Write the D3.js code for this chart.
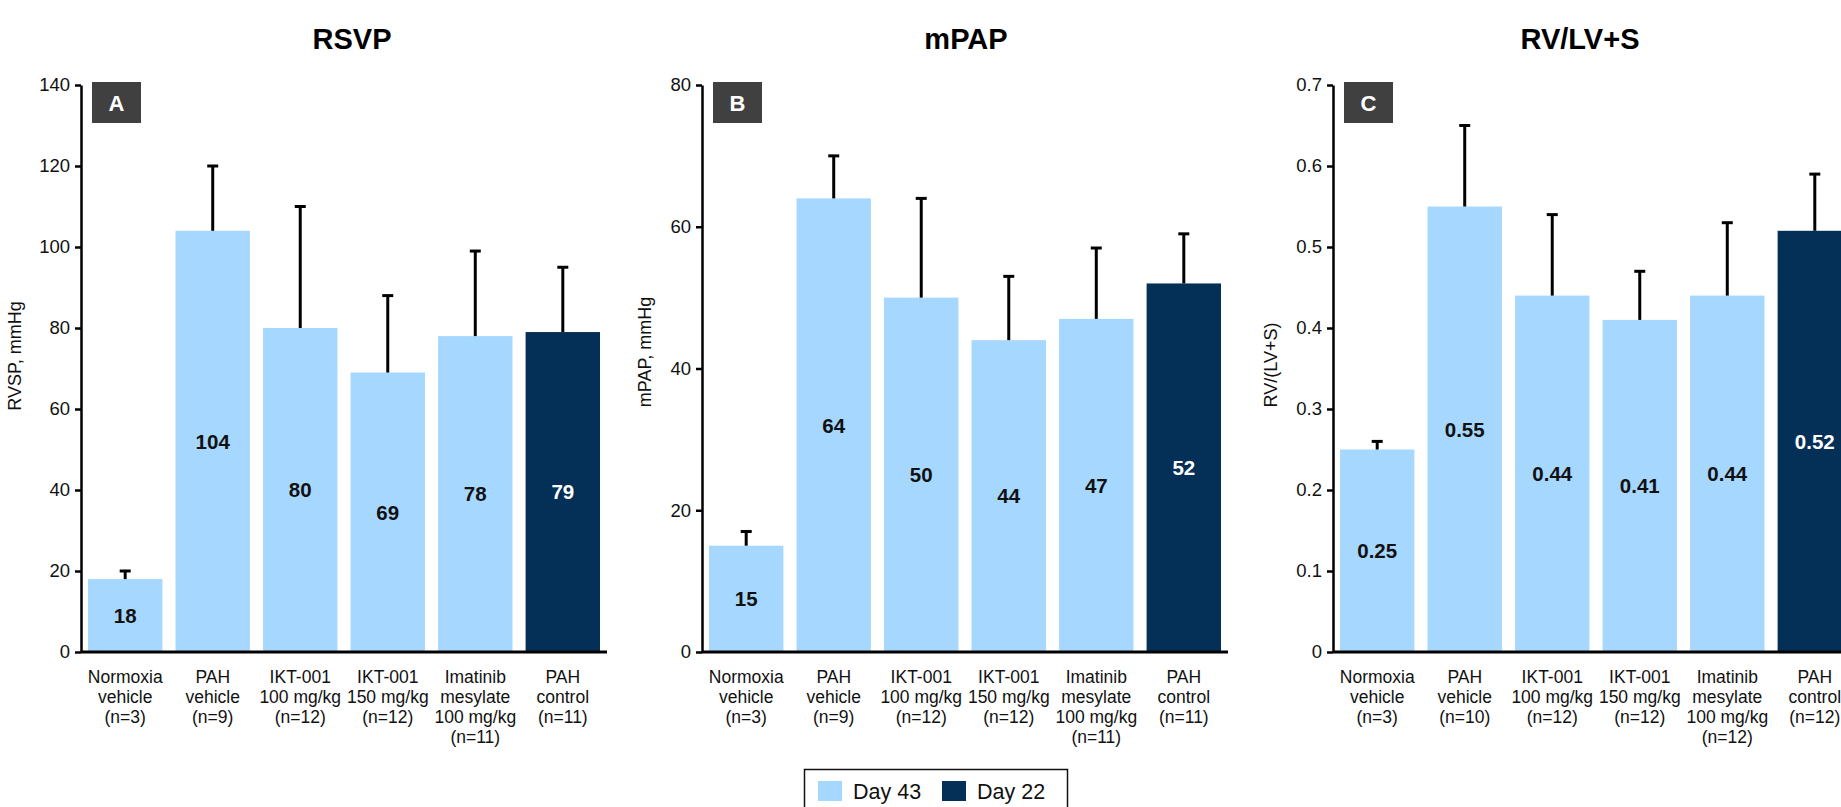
<!DOCTYPE html>
<html>
<head>
<meta charset="utf-8">
<script src="https://cdn.jsdelivr.net/npm/d3@7"></script>
<style>
  html, body { margin: 0; padding: 0; background: #fff; overflow: hidden; }
  svg { display: block; font-family: "Liberation Sans", Arial, sans-serif; }
</style>
</head>
<body>
<div id="chart"></div>
<script>
// categories (one line per array entry)
const catsAB = [
  ['Normoxia', 'vehicle', '(n=3)'],
  ['PAH', 'vehicle', '(n=9)'],
  ['IKT-001', '100 mg/kg', '(n=12)'],
  ['IKT-001', '150 mg/kg', '(n=12)'],
  ['Imatinib', 'mesylate', '100 mg/kg', '(n=11)'],
  ['PAH', 'control', '(n=11)']
];
const catsC = [
  ['Normoxia', 'vehicle', '(n=3)'],
  ['PAH', 'vehicle', '(n=10)'],
  ['IKT-001', '100 mg/kg', '(n=12)'],
  ['IKT-001', '150 mg/kg', '(n=12)'],
  ['Imatinib', 'mesylate', '100 mg/kg', '(n=12)'],
  ['PAH', 'control', '(n=12)']
];
const series = ['Day 43', 'Day 43', 'Day 43', 'Day 43', 'Day 43', 'Day 22'];

// values and top of the error bars
const rsvp = [18, 104, 80, 69, 78, 79];
const rsvpErr = [20, 120, 110, 88, 99, 95];
const mpap = [15, 64, 50, 44, 47, 52];
const mpapErr = [17, 70, 64, 53, 57, 59];
const rvlv = [0.25, 0.55, 0.44, 0.41, 0.44, 0.52];
const rvlvErr = [0.26, 0.65, 0.54, 0.47, 0.53, 0.59];

// tick labels
const ticksA = [0, 20, 40, 60, 80, 100, 120, 140];
const ticksB = [0, 20, 40, 60, 80];
const ticksC = [0, 0.1, 0.2, 0.3, 0.4, 0.5, 0.6, 0.7];

const legendItems = ['Day 43', 'Day 22'];
const colors = { 'Day 43': '#A6D7FE', 'Day 22': '#043057' };

const W = 1841, H = 807;
const plotTop = 85, plotBottom = 652, plotW = 526;

const svg = d3.select('#chart').append('svg')
  .attr('width', W).attr('height', H);

const panels = [
  { letter: 'A', title: 'RSVP', titleX: 352, yTitle: 'RVSP, mmHg', yTitleX: 21, yTitleY: 356,
    x0: 81, cats: catsAB, vals: rsvp, errs: rsvpErr, ticks: ticksA, fmt: d => d, lbl: d => d },
  { letter: 'B', title: 'mPAP', titleX: 966, yTitle: 'mPAP, mmHg', yTitleX: 651, yTitleY: 352,
    x0: 702, cats: catsAB, vals: mpap, errs: mpapErr, ticks: ticksB, fmt: d => d, lbl: d => d },
  { letter: 'C', title: 'RV/LV+S', titleX: 1580, yTitle: 'RV/(LV+S)', yTitleX: 1277, yTitleY: 365,
    x0: 1333, cats: catsC, vals: rvlv, errs: rvlvErr, ticks: ticksC,
    fmt: d => d === 0 ? '0' : d3.format('.1f')(d), lbl: d => d3.format('.2f')(d) }
];

panels.forEach(p => {
  const g = svg.append('g');
  const idx = d3.range(p.vals.length);

  const x = d3.scaleBand()
    .domain(idx)
    .range([p.x0, p.x0 + plotW])
    .paddingInner(0.15)
    .paddingOuter(0.08);

  const y = d3.scaleLinear()
    .domain([0, d3.max(p.ticks)])
    .range([plotBottom, plotTop]);

  // title
  g.append('text')
    .attr('x', p.titleX).attr('y', 49)
    .attr('text-anchor', 'middle')
    .attr('font-size', 29).attr('font-weight', 'bold')
    .attr('fill', '#000')
    .text(p.title);

  // bars
  g.append('g').selectAll('rect').data(idx).enter().append('rect')
    .attr('x', i => x(i))
    .attr('y', i => y(p.vals[i]))
    .attr('width', x.bandwidth())
    .attr('height', i => y(0) - y(p.vals[i]))
    .attr('fill', i => colors[series[i]]);

  // error bars (upper only)
  const eb = g.append('g').attr('stroke', '#000').attr('stroke-width', 3);
  eb.selectAll('line.v').data(idx).enter().append('line')
    .attr('class', 'v')
    .attr('x1', i => x(i) + x.bandwidth() / 2)
    .attr('x2', i => x(i) + x.bandwidth() / 2)
    .attr('y1', i => y(p.vals[i]))
    .attr('y2', i => y(p.errs[i]));
  eb.selectAll('line.c').data(idx).enter().append('line')
    .attr('class', 'c')
    .attr('x1', i => x(i) + x.bandwidth() / 2 - 5.5)
    .attr('x2', i => x(i) + x.bandwidth() / 2 + 5.5)
    .attr('y1', i => y(p.errs[i]))
    .attr('y2', i => y(p.errs[i]));

  // value labels in the middle of each bar
  g.append('g').selectAll('text').data(idx).enter().append('text')
    .attr('x', i => x(i) + x.bandwidth() / 2)
    .attr('y', i => (y(p.vals[i]) + y(0)) / 2)
    .attr('dy', '0.36em')
    .attr('text-anchor', 'middle')
    .attr('font-size', 20.5).attr('font-weight', 'bold')
    .attr('fill', i => series[i] === 'Day 22' ? '#fff' : '#111')
    .text(i => p.lbl(p.vals[i]));

  // y axis
  const yAxis = g.append('g')
    .attr('transform', `translate(${p.x0},0)`)
    .call(d3.axisLeft(y).tickValues(p.ticks).tickFormat(p.fmt).tickSizeInner(6).tickSizeOuter(0).tickPadding(5));
  yAxis.select('.domain').attr('stroke', '#000').attr('stroke-width', 2.5);
  yAxis.selectAll('.tick line').attr('stroke', '#000').attr('stroke-width', 2.5);
  yAxis.selectAll('.tick text').attr('font-size', 18.5).attr('fill', '#111')
    .attr('font-family', '"Liberation Sans", Arial, sans-serif');

  // x axis with multi-line category labels
  const xAxis = g.append('g')
    .attr('transform', `translate(0,${plotBottom})`)
    .call(d3.axisBottom(x).tickSize(0).tickFormat(''));
  xAxis.select('.domain').attr('stroke', '#000').attr('stroke-width', 3)
    .attr('d', `M${p.x0},0H${p.x0 + plotW}`);
  xAxis.selectAll('.tick text').remove();
  xAxis.selectAll('.tick').each(function (i) {
    const t = d3.select(this).append('text')
      .attr('fill', '#111')
      .attr('font-size', 17.5)
      .attr('font-family', '"Liberation Sans", Arial, sans-serif')
      .attr('text-anchor', 'middle');
    p.cats[i].forEach((line, k) => {
      t.append('tspan').attr('x', 0).attr('y', 31 + k * 20).text(line);
    });
  });

  // y axis title
  g.append('text')
    .attr('transform', `translate(${p.yTitleX},${p.yTitleY}) rotate(-90)`)
    .attr('text-anchor', 'middle')
    .attr('font-size', 18).attr('fill', '#111')
    .text(p.yTitle);

  // panel letter box
  g.append('rect')
    .attr('x', p.x0 + 11).attr('y', 82)
    .attr('width', 49).attr('height', 41)
    .attr('fill', '#404040');
  g.append('text')
    .attr('x', p.x0 + 35.5).attr('y', 103)
    .attr('dy', '0.36em')
    .attr('text-anchor', 'middle')
    .attr('font-size', 22).attr('font-weight', 'bold')
    .attr('fill', '#fff')
    .text(p.letter);
});

// legend
const lg = svg.append('g');
lg.append('rect')
  .attr('x', 804.5).attr('y', 769.5)
  .attr('width', 263).attr('height', 60)
  .attr('fill', '#fff').attr('stroke', '#111').attr('stroke-width', 1.5);
const lx = d3.scaleOrdinal().domain(legendItems).range([818, 942]);
legendItems.forEach(s => {
  lg.append('rect')
    .attr('x', lx(s)).attr('y', 781)
    .attr('width', 24).attr('height', 20)
    .attr('fill', colors[s]);
  lg.append('text')
    .attr('x', lx(s) + 35).attr('y', 799)
    .attr('font-size', 21.5).attr('fill', '#111')
    .text(s);
});
</script>
</body>
</html>
